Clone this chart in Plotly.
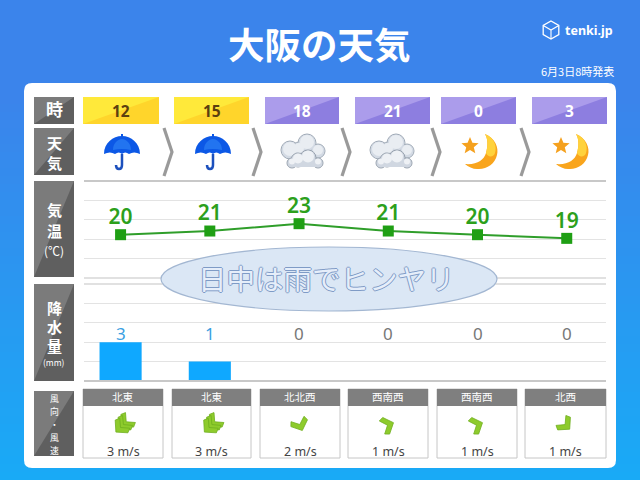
import math

import plotly.graph_objects as go

W, H = 640, 480
JP = 'Noto Sans CJK JP'
LATIN = 'Noto Sans'

hours = ['12', '15', '18', '21', '0', '3']
temps = [20, 21, 23, 21, 20, 19]
rain_mm = [3, 1, 0, 0, 0, 0]
# the picture's rain scale is stepped: 1 mm = one grid step, 3 mm = two steps
rain_steps = [2, 1, 0, 0, 0, 0]
wind_dirs = ['北東', '北東', '北北西', '西南西', '西南西', '北西']
wind_speed = [3, 3, 2, 1, 1, 1]
wind_chevrons = [3, 3, 1, 1, 1, 1]
weather = ['rain', 'rain', 'cloud', 'cloud', 'moon', 'moon']
is_day = [True, True, False, False, False, False]

BEARING = {'北東': 45, '北北西': 337.5, '西南西': 247.5, '北西': 315}

# header boxes and wind boxes, pixels of the reference
head_x = [(83, 159), (174, 249), (265, 339), (355, 430), (441, 516), (532, 607)]
wind_x = [(83, 163), (172, 251), (260, 340), (348, 428), (437, 517), (525, 606)]
icon_x = [122, 213, 302, 391, 483, 574]
chev_x = [168, 257, 346, 436, 525]

shapes = []
notes = []


def px(x):
    return x / W


def py(y):
    return 1 - y / H


def path(d, fill=None, line=None, width=1, layer='below'):
    out = []
    for tok in d.split():
        if ',' in tok:
            a, b = tok.split(',')
            out.append(f'{px(float(a)):.5f},{py(float(b)):.5f}')
        else:
            out.append(tok)
    shapes.append(dict(type='path', path=' '.join(out), xref='paper', yref='paper',
                       fillcolor=fill or 'rgba(0,0,0,0)', layer=layer,
                       line=dict(color=line or 'rgba(0,0,0,0)', width=width if line else 0)))


def rect(x0, y0, x1, y1, fill, line=None, width=1, layer='below'):
    shapes.append(dict(type='rect', xref='paper', yref='paper', x0=px(x0), x1=px(x1), y0=py(y0), y1=py(y1),
                       fillcolor=fill, layer=layer,
                       line=dict(color=line or 'rgba(0,0,0,0)', width=width if line else 0)))


def circle(cx, cy, r, fill, line=None, width=1, layer='below'):
    shapes.append(dict(type='circle', xref='paper', yref='paper', x0=px(cx - r), x1=px(cx + r),
                       y0=py(cy - r), y1=py(cy + r), fillcolor=fill, layer=layer,
                       line=dict(color=line or 'rgba(0,0,0,0)', width=width if line else 0)))


def text(x, y, s, size, color='white', family=JP, weight=None, anchor='center', **font):
    # the CJK face sits about a pixel low
    if family == JP:
        y -= 1
    notes.append(dict(x=px(x), y=py(y), xref='paper', yref='paper', text=s, showarrow=False,
                      xanchor=anchor, yanchor='middle',
                      font=dict(size=size, color=color, family=family, weight=weight, **font)))


def split_box(x0, y0, x1, y1, light, dark):
    # box with a darker triangle under its rising diagonal
    rect(x0, y0, x1, y1, light)
    path(f'M {x1},{y0} L {x1},{y1} L {x0},{y1} Z', fill=dark)


def umbrella(c):
    path(f'M {c},154 L {c},165 Q {c},169 {c-3},169 Q {c-6},169 {c-6},165', line='#1c50bd', width=2.5)
    path(f'M {c-18},154 C {c-18},143 {c-9},136 {c},136 C {c+9},136 {c+18},143 {c+18},154 '
         f'Q {c+12},151 {c+7},154 Q {c+3},151 {c},154 Q {c-3},151 {c-7},154 Q {c-12},151 {c-18},154 Z',
         fill='#0c58e6')
    path(f'M {c-9},150 C {c-9},143 {c-4},139 {c},139 C {c+4},139 {c+9},143 {c+9},150 Q {c},148 {c-9},150 Z',
         fill='#2274f0')
    rect(c - 1, 134, c + 1, 137, '#0c58e6')


def cloud(c):
    back = [(-12, -2, 9), (-3, -3, 7), (5, -9, 9), (16, -1, 7)]
    front = [(-10, 11, 5), (-4, 8, 7), (6, 6, 8), (16, 11, 5)]
    for dx, dy, r in back:
        circle(c + dx, 152 + dy, r, '#d3dae4', line='#a0aab6')
    for dx, dy, r in back:
        circle(c + dx, 152 + dy, r - 0.7, '#d3dae4')
    for dx, dy, r in back:
        circle(c + dx, 151 + dy, r - 2, '#e9edf2')
    for dx, dy, r in front:
        circle(c + dx, 152 + dy, r, '#d0d7e1', line='#98a2ae')
    rect(c - 10, 160, c + 16, 167, '#d0d7e1')
    for dx, dy, r in front:
        circle(c + dx, 152 + dy, r - 0.7, '#d0d7e1')
    for dx, dy, r in front:
        circle(c + dx, 150.5 + dy, r - 2, '#eef1f5')


def moon(c):
    path(f'M {c+2},134 C {c+12},138 {c+16},148 {c+14},155 C {c+12},164 {c+3},170 {c-6},169 '
         f'C {c-10},169 {c-15},167 {c-18},164 C {c-6},165 {c+1},160 {c+3},153 C {c+5},146 {c+5},139 {c+2},134 Z',
         fill='#f9a51d')
    path(f'M {c+2},134 C {c+12},138 {c+14},147 {c+12},153 C {c+11},157 {c+5},158 {c+3},153 C {c+5},146 {c+5},139 {c+2},134 Z',
         fill='#ffd23c')
    sx, sy, pts = c - 13, 146, []
    for k in range(10):
        r = 9 if k % 2 == 0 else 4
        a = math.radians(k * 36 - 90)
        pts.append(f'{sx + r * math.cos(a):.1f},{sy + r * math.sin(a):.1f}')
    path('M ' + ' L '.join(pts) + ' Z', fill='#f5a11e')


def chevron(cx, cy, bearing, n):
    # tip points the way the wind blows, so opposite the named direction
    a = math.radians(bearing + 180)
    dir_x, dir_y = math.sin(a), -math.cos(a)
    local = [(-9, 2), (0, -6), (9, 2), (7, 6.5), (0, 0.5), (-7, 6.5)]
    for k in range(n):
        off = (k - (n - 1) / 2) * 4
        pts = []
        for lx, ly in local:
            x = cx + off * dir_x + lx * math.cos(a) - ly * math.sin(a)
            y = cy + off * dir_y + lx * math.sin(a) + ly * math.cos(a)
            pts.append(f'{x:.1f},{y:.1f}')
        path('M ' + ' L '.join(pts) + ' Z', fill='#8ecb2c', line='#6fae1e', width=0.8, layer='above')


# background gradient and the white card
BANDS = 60
top, bottom = (59, 132, 235), (25, 170, 246)
for b in range(BANDS):
    t = max(0, (b / (BANDS - 1) - 0.2) / 0.8)
    col = 'rgb(%d,%d,%d)' % tuple(round(top[i] + (bottom[i] - top[i]) * t) for i in range(3))
    rect(0, H * b / BANDS, W, H * (b + 1) / BANDS + 1, col)
path('M 32,83 L 608,83 Q 616,83 616,91 L 616,460 Q 616,468 608,468 L 32,468 Q 24,468 24,460 L 24,91 Q 24,83 32,83 Z',
     fill='white')

# row labels on the left
split_box(34, 97, 74, 124, '#7b7b7b', '#5f5f5f')
split_box(34, 128, 74, 175, '#7b7b7b', '#5f5f5f')
split_box(34, 181, 74, 277, '#7b7b7b', '#5f5f5f')
split_box(34, 284, 74, 381, '#7b7b7b', '#5f5f5f')
split_box(34, 391, 74, 456, '#7b7b7b', '#5f5f5f')
text(54, 110, '<b>時</b>', 17)
text(54, 143, '<b>天</b>', 15)
text(54, 163, '<b>気</b>', 15)
text(54, 210, '<b>気</b>', 15)
text(54, 231, '<b>温</b>', 15)
text(54, 251, '(℃)', 12)
text(54, 308, '<b>降</b>', 15)
text(54, 327, '<b>水</b>', 15)
text(54, 346, '<b>量</b>', 15)
text(54, 363, '(mm)', 8.5)
for yy, ch in zip([399, 412, 425, 438, 451], '風向・風速'):
    text(54, yy, ch, 8.8)

# hour headers and weather icons
for i, hour in enumerate(hours):
    x0, x1 = head_x[i]
    if is_day[i]:
        split_box(x0, 97, x1, 124, '#ffe93a', '#ffd52b')
    else:
        split_box(x0, 97, x1, 124, '#ab9ceb', '#8d7ee0')
    text((x0 + x1) / 2, 110.5, f'<b>{hour}</b>', 15.5, color='#5c3f10' if is_day[i] else 'white', family=LATIN)
    {'rain': umbrella, 'cloud': cloud, 'moon': moon}[weather[i]](icon_x[i])
for c in chev_x:
    path(f'M {c-4},128 L {c+4},152 L {c-4},176', line='#9a9a9a', width=3.2)

# heavier rules of the chart area
rect(84, 180, 606, 182, '#c8c8c8')
rect(84, 277.5, 606, 278.5, '#c4c4c4')
rect(84, 283.5, 606, 284.5, '#c4c4c4')
rect(84, 380, 606, 382, '#c8c8c8', layer='above')

# speech ellipse over the chart
shapes.append(dict(type='circle', xref='paper', yref='paper', x0=px(161), x1=px(497), y0=py(311), y1=py(247),
                   fillcolor='#dbe7f5', line=dict(color='#a3b7d2', width=1.2), layer='above'))
edge = '#7f9bc6'
text(326, 278, '日中は雨でヒンヤリ', 28.5, color='#e6eefa',
     shadow=f'1px 0 {edge},-1px 0 {edge},0 1px {edge},0 -1px {edge}')

# rain figures
for i, mm in enumerate(rain_mm):
    notes.append(dict(x=i, xref='x2', y=py(333), yref='paper', text=str(mm), showarrow=False, yanchor='middle',
                      font=dict(size=17, family=LATIN, color='#3a9fe2' if mm > 0 else '#777777')))

# wind boxes
for i in range(6):
    x0, x1 = wind_x[i]
    rect(x0, 389, x1, 458, 'white', line='#c6c6c6', width=1)
    rect(x0, 389, x1, 406, '#7f7f7f')
    text((x0 + x1) / 2, 397.5, wind_dirs[i], 10.5)
    text((x0 + x1) / 2, 451, f'{wind_speed[i]} m/s', 12.5, color='#444444', family=LATIN)
    chevron((x0 + x1) / 2, 425, BEARING[wind_dirs[i]], wind_chevrons[i])

# title, logo, issue time
text(319, 44, '<b>大阪の天気</b>', 36.5)
text(563, 30, '<b>tenki.jp</b>', 12.5, family=LATIN, anchor='left')
text(616, 72, '6月3日8時発表', 11, anchor='right')
hexa = [(551 + 9 * math.sin(math.radians(k * 60)), 30 - 9 * math.cos(math.radians(k * 60))) for k in range(6)]
path('M ' + ' L '.join(f'{a:.1f},{b:.1f}' for a, b in hexa) + ' Z', line='white', width=1.3)
path(f'M {hexa[5][0]:.1f},{hexa[5][1]:.1f} L 551,30 L {hexa[1][0]:.1f},{hexa[1][1]:.1f} M 551,30 L 551,39',
     line='white', width=1.1)

fig = go.Figure()
fig.add_trace(go.Scatter(
    x=hours, y=temps, mode='lines+markers',
    line=dict(color='#2f9e2a', width=2),
    marker=dict(symbol='square', size=11, color='#1f9f14'),
    cliponaxis=False, showlegend=False, hoverinfo='skip',
))
# labels in their own trace: the hidden, smaller marker sets how far they sit above the point
fig.add_trace(go.Scatter(
    x=hours, y=temps, mode='markers+text',
    text=[str(v) for v in temps], textposition='top center',
    textfont=dict(size=21, color='#2ca01c', family=LATIN, weight=600),
    marker=dict(size=7, opacity=0),
    cliponaxis=False, showlegend=False, hoverinfo='skip',
))
fig.add_trace(go.Bar(
    x=hours, y=rain_steps, width=0.472, marker=dict(color='#0fa8ff', line=dict(width=0)),
    xaxis='x2', yaxis='y2', showlegend=False, hoverinfo='skip',
))

grid = '#e3e3e3'
x_common = dict(type='category', categoryorder='array', categoryarray=hours, range=[-0.41, 5.44],
                showgrid=False, zeroline=False, showline=False, ticks='', showticklabels=False,
                domain=[px(84), px(606)])
fig.update_layout(
    width=W, height=H, margin=dict(l=0, r=0, t=0, b=0),
    paper_bgcolor='rgba(0,0,0,0)', plot_bgcolor='rgba(0,0,0,0)',
    shapes=shapes, annotations=notes, showlegend=False,
    xaxis=dict(x_common, anchor='y'),
    xaxis2=dict(x_common, anchor='y2'),
    yaxis=dict(domain=[py(278), py(181)], range=[8.2, 34.63], tick0=8.2, dtick=5.31, showgrid=True, gridcolor=grid,
               zeroline=False, showticklabels=False, ticks='', anchor='x'),
    yaxis2=dict(domain=[py(381), py(284)], range=[0, 5], dtick=1, showgrid=True, gridcolor=grid,
                zeroline=False, showticklabels=False, ticks='', anchor='x2'),
)
fig.write_html('out.html', config=dict(displayModeBar=False),
               post_script="document.body.style.margin='0';document.documentElement.style.overflow='hidden';")
